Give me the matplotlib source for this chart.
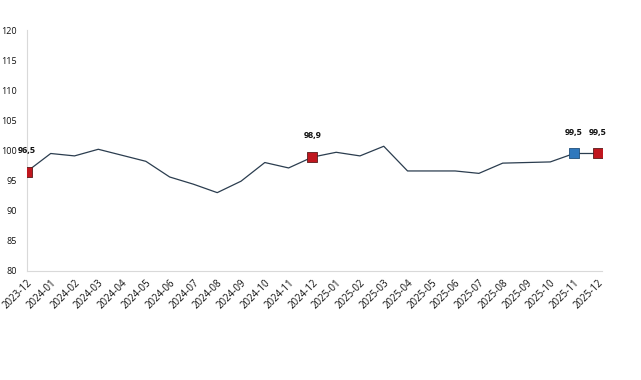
import matplotlib
matplotlib.use("Agg")
import matplotlib.pyplot as plt

months = ["2023-12", "2024-01", "2024-02", "2024-03", "2024-04", "2024-05",
          "2024-06", "2024-07", "2024-08", "2024-09", "2024-10", "2024-11",
          "2024-12", "2025-01", "2025-02", "2025-03", "2025-04", "2025-05",
          "2025-06", "2025-07", "2025-08", "2025-09", "2025-10", "2025-11",
          "2025-12"]
values = [96.5, 99.5, 99.1, 100.2, 99.2, 98.2, 95.6, 94.4, 93.0, 94.9,
          98.0, 97.1, 98.9, 99.7, 99.1, 100.7, 96.6, 96.6, 96.6, 96.2,
          97.9, 98.0, 98.1, 99.5, 99.5]
red_idx = [0, 12, 24]
blue_idx = [23]

LINE = "#2b3d4f"
RED = "#c0161e"
BLUE = "#2f78bd"
SPINE = "#d9d9d9"

plt.rcParams["font.family"] = ["Open Sans", "DejaVu Sans"]

fig = plt.figure(figsize=(6.41, 3.80), dpi=100)
ax = fig.add_axes([0.042, 0.287, 0.897, 0.634])

xs = list(range(len(months)))
ax.plot(xs, values, color=LINE, linewidth=0.9, zorder=2)

ax.scatter([xs[i] for i in red_idx], [values[i] for i in red_idx], marker="s",
           s=60, color=RED, edgecolors="#5a1a1a", linewidths=0.6, zorder=3)
ax.scatter([xs[i] for i in blue_idx], [values[i] for i in blue_idx], marker="s",
           s=60, color=BLUE, edgecolors="#1f4f7a", linewidths=0.6, zorder=3)

for i in red_idx + blue_idx:
    ax.annotate(f"{values[i]:.1f}".replace(".", ","), xy=(xs[i], values[i]),
                xytext=(0, 12), textcoords="offset points", ha="center",
                va="bottom", fontsize=6.5, fontweight="bold", color="#111111")

ax.set_xlim(0, 24.17)
ax.set_ylim(80, 120)
ax.set_yticks(range(80, 121, 5))
ax.set_xticks(xs)
ax.set_xticklabels(months, rotation=45, ha="right", rotation_mode="anchor",
                   fontsize=7, color="#111111")
ax.tick_params(axis="y", length=0, labelsize=6.5, pad=7, labelcolor="#111111")
ax.tick_params(axis="x", length=0, pad=5)

for side in ["top", "right"]:
    ax.spines[side].set_visible(False)
for side in ["left", "bottom"]:
    ax.spines[side].set_color(SPINE)
    ax.spines[side].set_linewidth(0.8)

fig.savefig("out.png", dpi=100, facecolor="white")
